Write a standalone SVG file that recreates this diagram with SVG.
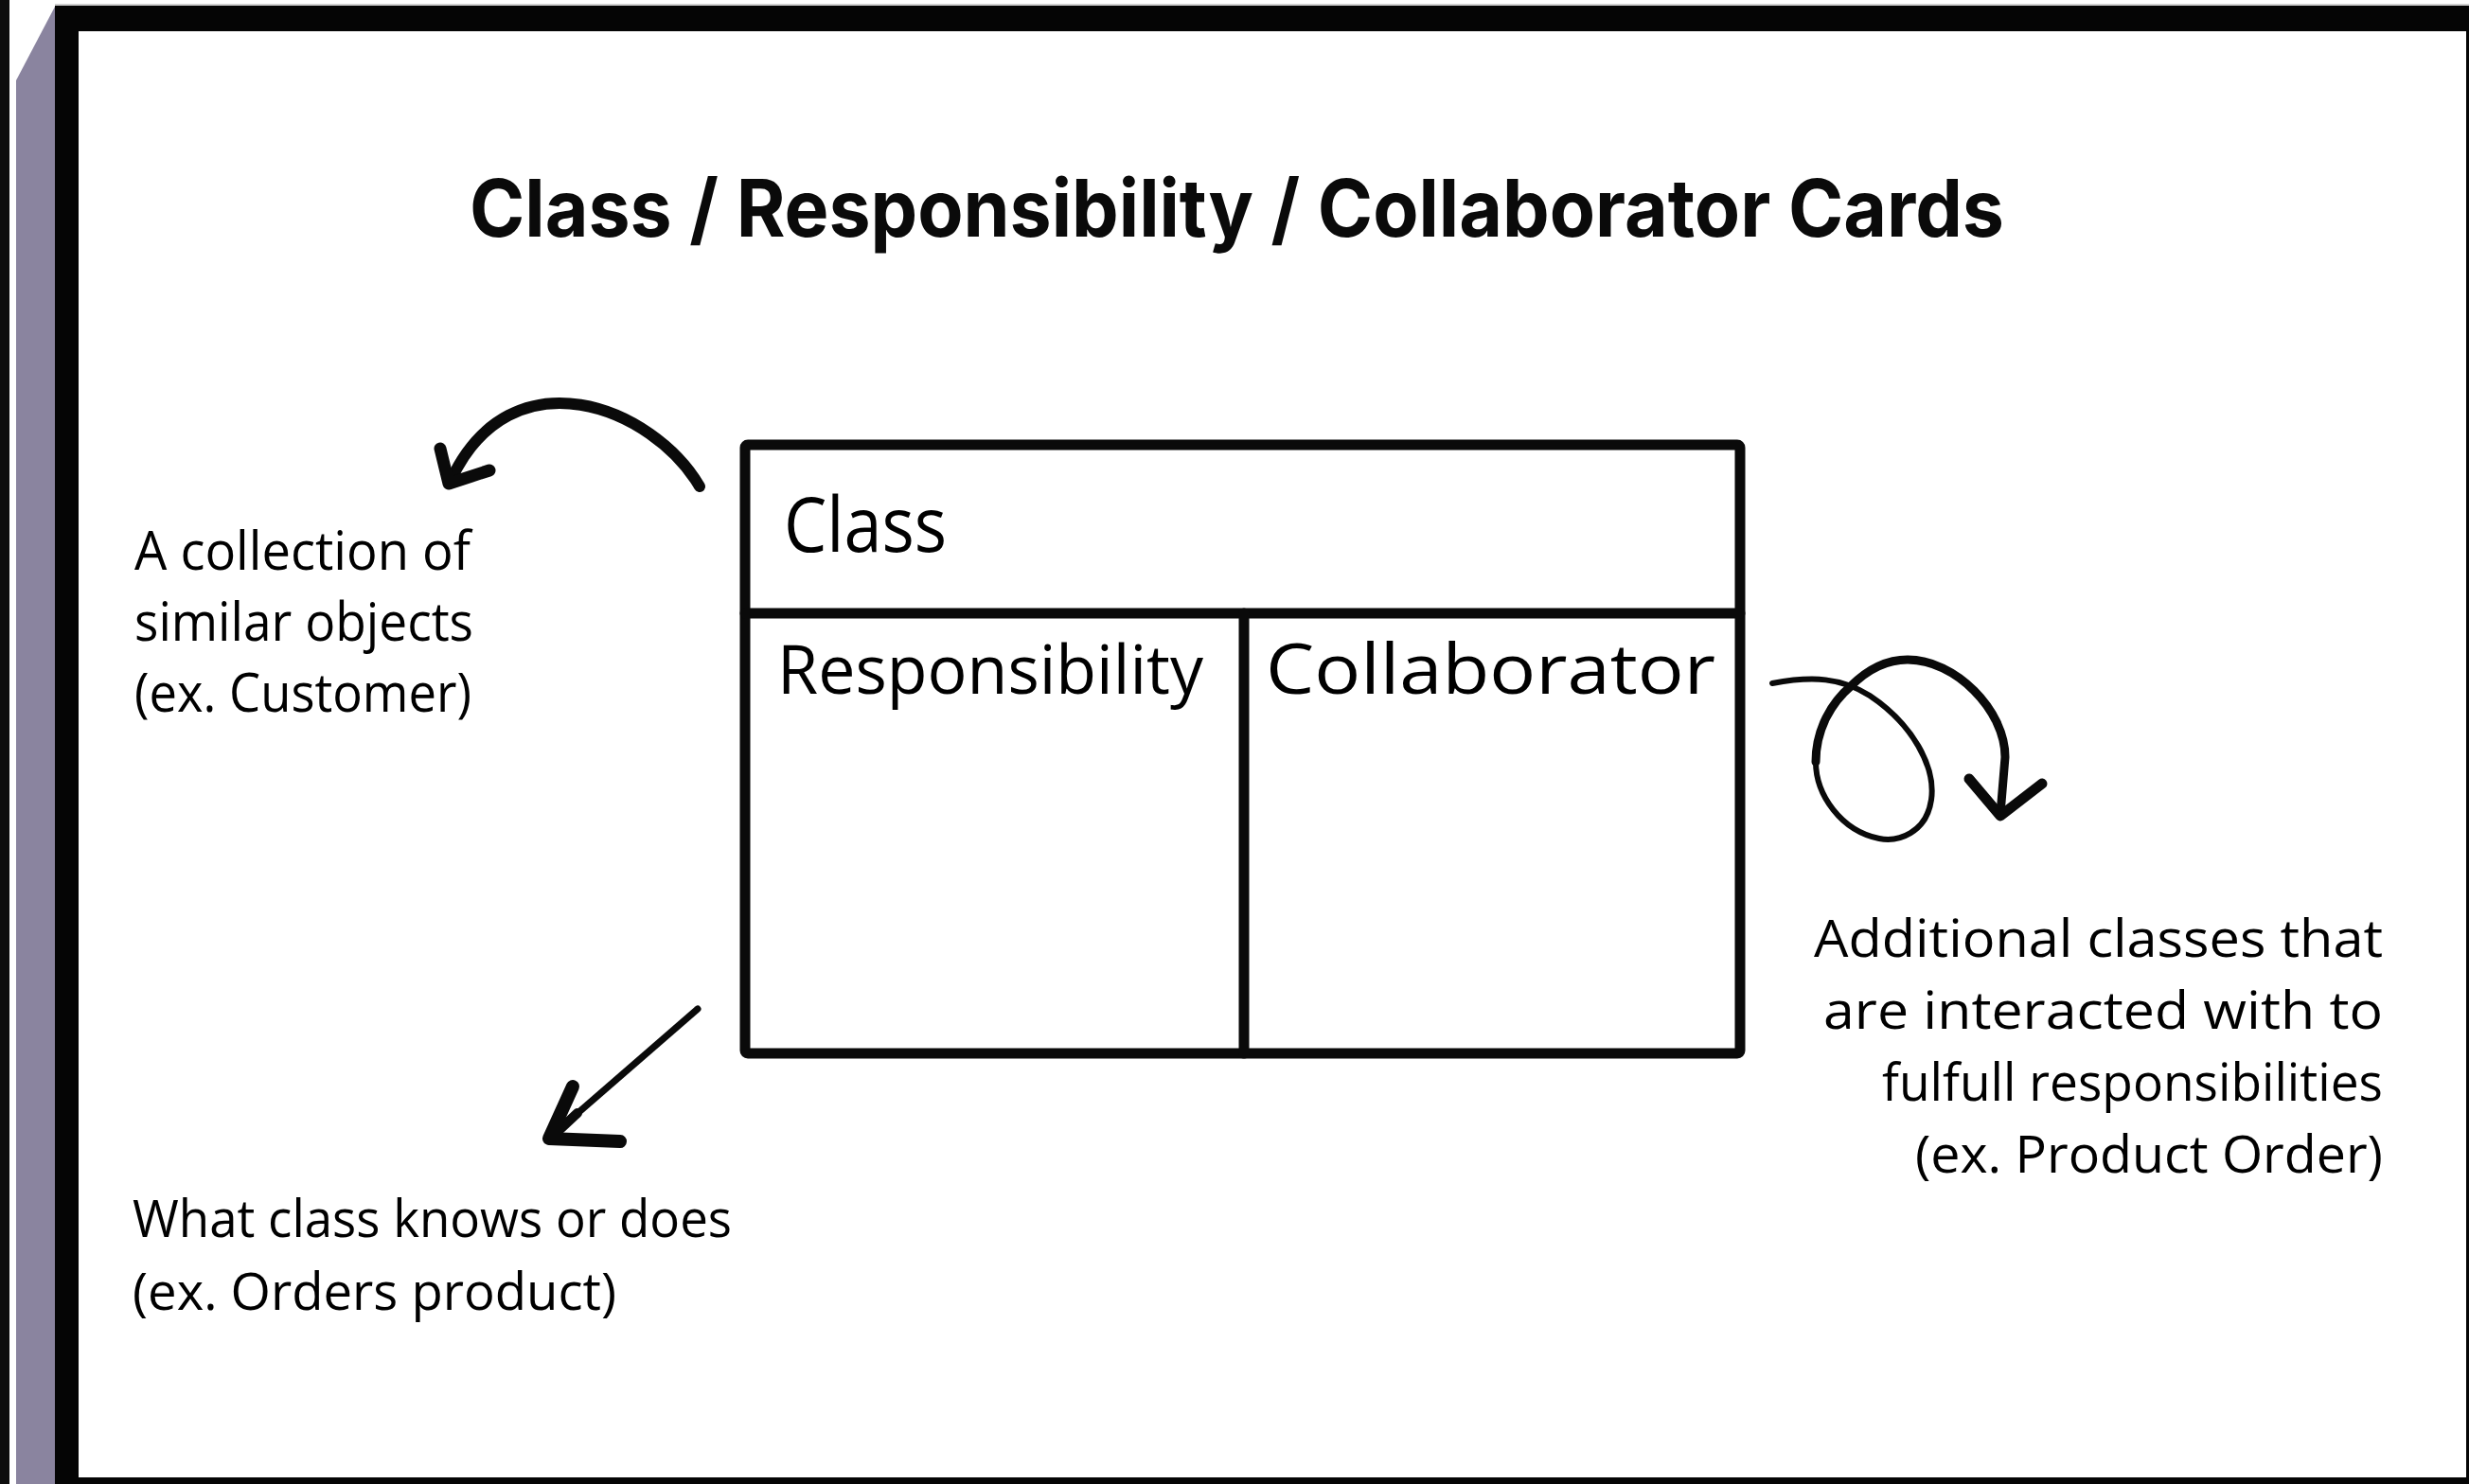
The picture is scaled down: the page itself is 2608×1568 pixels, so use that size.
<svg xmlns="http://www.w3.org/2000/svg" width="2608" height="1568" viewBox="0 0 2608 1568">
  <style>
    .hand { font-family: "Open Sans", "Liberation Sans", sans-serif; font-weight: 400; fill: #000; }
    .title { font-family: "Inter", "Liberation Sans", sans-serif; font-weight: 700; fill: #0a0a0a; }
    .card { fill: none; stroke: #0a0a0a; stroke-width: 11; stroke-linejoin: round; stroke-linecap: round; }
    .ink { fill: none; stroke: #0a0a0a; stroke-linecap: round; stroke-linejoin: round; }
  </style>

  <!-- frame -->
  <g id="frame">
    <rect x="0" y="0" width="2608" height="1568" fill="#ffffff"/>
    <rect x="0" y="0" width="10" height="1568" fill="#0d0d0d"/>
    <polygon points="17,85 58,7 58,1568 17,1568" fill="#8a849f"/>
    <rect x="58" y="4" width="2550" height="2" fill="#cfcfcf"/>
    <rect x="58" y="6" width="2550" height="1562" fill="#050505"/>
    <rect x="83" y="33" width="2522" height="1528" fill="#ffffff"/>
  </g>

  <g id="title">
    <text class="title" x="496" y="250" font-size="84" textLength="1621" lengthAdjust="spacingAndGlyphs">Class / Responsibility / Collaborator Cards</text>
  </g>

  <!-- CRC card -->
  <g id="card">
    <rect class="card" x="787" y="470" width="1051" height="643" rx="3"/>
    <line class="card" x1="787" y1="648" x2="1838" y2="648"/>
    <line class="card" x1="1314" y1="648" x2="1314" y2="1113"/>
    <g id="card-class">
      <text class="hand" x="828" y="583" font-size="80" textLength="172" lengthAdjust="spacingAndGlyphs">Class</text>
    </g>
    <g id="card-responsibility">
      <text class="hand" x="821" y="733" font-size="71" textLength="450" lengthAdjust="spacingAndGlyphs">Responsibility</text>
    </g>
    <g id="card-collaborator">
      <text class="hand" x="1337" y="733" font-size="74" textLength="475" lengthAdjust="spacingAndGlyphs">Collaborator</text>
    </g>
  </g>

  <!-- annotations -->
  <g id="note-class">
    <text class="hand" x="142" y="602" font-size="56" textLength="355" lengthAdjust="spacingAndGlyphs">A collection of</text>
    <text class="hand" x="142" y="677" font-size="56" textLength="358" lengthAdjust="spacingAndGlyphs">similar objects</text>
    <text class="hand" x="142" y="752" font-size="56" textLength="356" lengthAdjust="spacingAndGlyphs">(ex. Customer)</text>
  </g>

  <g id="note-responsibility">
    <text class="hand" x="140" y="1307" font-size="54" textLength="633" lengthAdjust="spacingAndGlyphs">What class knows or does</text>
    <text class="hand" x="140" y="1384" font-size="54" textLength="511" lengthAdjust="spacingAndGlyphs">(ex. Orders product)</text>
  </g>

  <g id="note-collaborator">
    <text class="hand" x="1916" y="1011" font-size="55" textLength="601" lengthAdjust="spacingAndGlyphs">Additional classes that</text>
    <text class="hand" x="1926" y="1087" font-size="55" textLength="591" lengthAdjust="spacingAndGlyphs">are interacted with to</text>
    <text class="hand" x="1988" y="1163" font-size="55" textLength="529" lengthAdjust="spacingAndGlyphs">fulfull responsibilities</text>
    <text class="hand" x="2023" y="1239" font-size="55" textLength="494" lengthAdjust="spacingAndGlyphs">(ex. Product Order)</text>
  </g>

  <!-- connectors -->
  <g id="connectors">
    <!-- class arrow: curved, from card top-left to left note -->
    <g id="arrow-class">
      <path class="ink" stroke-width="12" d="M 739 514 C 690 430, 540 370, 476 508"/>
      <path class="ink" stroke-width="13" d="M 465 474 L 474 511 L 517 497"/>
    </g>
    <!-- responsibility arrow: straight diagonal -->
    <g id="arrow-responsibility">
      <path class="ink" stroke-width="7" d="M 737 1066 L 600 1185"/>
      <path class="ink" stroke-width="10" d="M 610 1176 L 580 1204"/>
      <path class="ink" stroke-width="14" d="M 605 1148 L 580 1203 L 655 1206"/>
    </g>
    <!-- collaborator arrow: looped -->
    <g id="arrow-collaborator">
      <path class="ink" stroke-width="6" d="M 1872 722 C 1915 714, 1945 716, 1975 735 C 2020 765, 2045 810, 2040 845 C 2035 880, 2005 890, 1985 886 C 1945 878, 1918 840, 1918 805"/>
      <path class="ink" stroke-width="9" d="M 1918 805 C 1918 770, 1935 742, 1955 725 C 1975 705, 1995 697, 2015 697 C 2065 697, 2118 750, 2118 800 L 2113 860"/>
      <path class="ink" stroke-width="11" d="M 2080 823 L 2113 862 L 2157 828"/>
    </g>
  </g>
</svg>
